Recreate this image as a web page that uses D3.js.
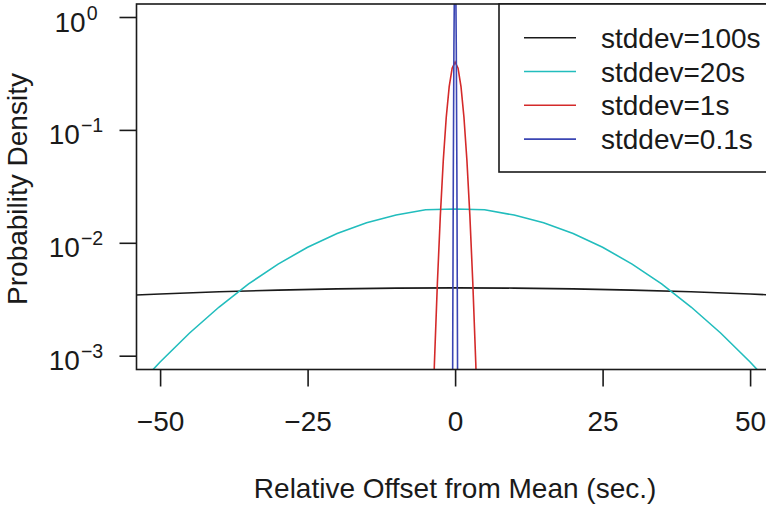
<!DOCTYPE html>
<html lang="en">
<head>
  <meta charset="UTF-8">
  <title>density</title>
  <script src="https://d3js.org/d3.v7.min.js"></script>
  <style>
    body { margin: 0; background: #fff; }
    text { font-family: "Liberation Sans", Arial, sans-serif; fill: #1a1a1a; }
  </style>
</head>
<body>
<svg width="766" height="509"></svg>
<script>
  // data
  var offsets100 = [-55, -50, -40, -30, -20, -10, 0, 10, 20, 30, 40, 50, 55];
  var density100 = [0.00343, 0.00352, 0.00368, 0.00381, 0.00391, 0.00397, 0.00399, 0.00397, 0.00391, 0.00381, 0.00368, 0.00352, 0.00343];

  var offsets20 = [-55, -50, -45, -40, -35, -30, -25, -20, -15, -10, -5, 0, 5, 10, 15, 20, 25, 30, 35, 40, 45, 50, 55];
  var density20 = [0.00046, 0.00088, 0.00159, 0.0027, 0.00432, 0.00648, 0.00913, 0.0121, 0.01506, 0.0176, 0.0196, 0.0199,
                   0.0196, 0.0176, 0.01506, 0.0121, 0.00913, 0.00648, 0.00432, 0.0027, 0.00159, 0.00088, 0.00046];

  var offsets1 = [-4, -3.5, -3, -2.5, -2, -1.5, -1, -0.5, 0, 0.5, 1, 1.5, 2, 2.5, 3, 3.5, 4];
  var density1 = [0.000134, 0.000873, 0.00443, 0.0175, 0.054, 0.1295, 0.242, 0.352, 0.399,
                  0.352, 0.242, 0.1295, 0.054, 0.0175, 0.00443, 0.000873, 0.000134];

  var offsets01 = [-0.5, -0.4, -0.3, -0.2, -0.1, 0, 0.1, 0.2, 0.3, 0.4, 0.5];
  var density01 = [0.000015, 0.00134, 0.0443, 0.54, 2.42, 3.99, 2.42, 0.54, 0.0443, 0.00134, 0.000015];

  var seriesNames = ["stddev=100s", "stddev=20s", "stddev=1s", "stddev=0.1s"];
  var seriesColors = ["#1a1a1a", "#22bdbd", "#d42a2a", "#3a45b3"];
  var xTicks = [-50, -25, 0, 25, 50];
  var yTicks = [0, -1, -2, -3]; // exponents of 10

  var series = [
    { x: offsets100, y: density100 },
    { x: offsets20, y: density20 },
    { x: offsets1, y: density1 },
    { x: offsets01, y: density01 }
  ];

  var svg = d3.select('svg');
  var plotL = 136.5, plotR = 773.7, plotT = 4, plotB = 369.5;

  var x = d3.scaleLinear().domain([-54, 54]).range([plotL, plotR]);
  // 10^0 sits at 17px, one decade is ~112.9px
  var y = d3.scaleLog()
    .domain([Math.pow(10, -(plotB - 17) / 112.9), Math.pow(10, (17 - plotT) / 112.9)])
    .range([plotB, plotT]);

  svg.append('defs').append('clipPath').attr('id', 'plot')
    .append('rect').attr('x', plotL).attr('y', plotT)
    .attr('width', plotR - plotL).attr('height', plotB - plotT);

  var line = d3.line()
    .x(function (d) { return x(d[0]); })
    .y(function (d) { return y(d[1]); });

  svg.append('g').attr('clip-path', 'url(#plot)')
    .selectAll('path')
    .data(series)
    .enter()
    .append('path')
    .attr('d', function (s) { return line(d3.zip(s.x, s.y)); })
    .attr('fill', 'none')
    .attr('stroke', function (d, i) { return seriesColors[i]; })
    .attr('stroke-width', 1.6);

  // frame
  svg.append('rect')
    .attr('x', plotL).attr('y', plotT)
    .attr('width', plotR - plotL).attr('height', plotB - plotT)
    .attr('fill', 'none').attr('stroke', '#1a1a1a').attr('stroke-width', 1.6);

  // x axis
  var xAxis = svg.append('g')
    .attr('transform', 'translate(0,' + plotB + ')')
    .call(d3.axisBottom(x).tickValues(xTicks).tickSize(17).tickPadding(25)
      .tickFormat(function (d) { return d < 0 ? '\u2212' + Math.abs(d) : d; }));
  xAxis.select('.domain').remove();
  xAxis.selectAll('line').attr('stroke', '#1a1a1a').attr('stroke-width', 1.6);
  xAxis.selectAll('text').style('font-size', '28px').attr('fill', '#1a1a1a')
    .style('font-family', '"Liberation Sans", Arial, sans-serif');

  // y axis
  var yAxis = svg.append('g')
    .attr('transform', 'translate(' + plotL + ',0)')
    .call(d3.axisLeft(y).tickValues(yTicks.map(function (e) { return Math.pow(10, e); }))
      .tickSize(17).tickFormat(''));
  yAxis.select('.domain').remove();
  yAxis.selectAll('line').attr('stroke', '#1a1a1a').attr('stroke-width', 1.6);
  yAxis.selectAll('.tick text').remove();

  // 10^e labels, centred on x = 76 as in R's plotmath output
  yAxis.selectAll('.tick').each(function (d) {
    var e = Math.round(Math.log10(d));
    var tick = d3.select(this);
    var base = tick.append('text')
      .attr('y', 14).attr('text-anchor', 'start')
      .style('font-size', '28px').text('10');
    var sup = tick.append('text')
      .attr('y', 2).attr('text-anchor', 'start')
      .style('font-size', '19.6px').text(e < 0 ? '\u2212' + Math.abs(e) : String(e));
    var wb = base.node().getComputedTextLength();
    var ws = sup.node().getComputedTextLength();
    var x0 = 76 - plotL - (wb + ws + 1) / 2;
    base.attr('x', x0);
    sup.attr('x', x0 + wb + 1);
  });

  // axis titles
  svg.append('text')
    .attr('x', (plotL + plotR) / 2).attr('y', 498)
    .attr('text-anchor', 'middle').style('font-size', '28px')
    .text('Relative Offset from Mean (sec.)');

  svg.append('text')
    .attr('transform', 'translate(27,' + 189 + ') rotate(-90)')
    .attr('text-anchor', 'middle').style('font-size', '28px')
    .text('Probability Density');

  // legend
  var legend = svg.append('g');
  legend.append('rect')
    .attr('x', 499).attr('y', plotT).attr('width', 300).attr('height', 172 - plotT)
    .attr('fill', '#fff').attr('stroke', '#1a1a1a').attr('stroke-width', 1.6);
  var rows = legend.selectAll('.row')
    .data(seriesNames)
    .enter()
    .append('g')
    .attr('transform', function (d, i) { return 'translate(0,' + (37.7 + i * 33.8) + ')'; });
  rows.append('line')
    .attr('x1', 524).attr('x2', 576)
    .attr('stroke', function (d, i) { return seriesColors[i]; })
    .attr('stroke-width', 1.6);
  rows.append('text')
    .attr('x', 601).attr('dy', '0.36em')
    .style('font-size', '28px')
    .text(function (d) { return d; });
</script>
</body>
</html>
